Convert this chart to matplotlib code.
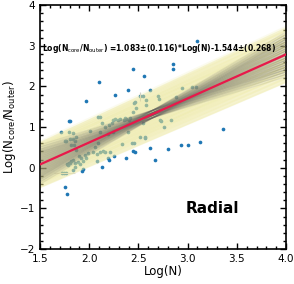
import numpy as np
import matplotlib
matplotlib.use("Agg")
import matplotlib.pyplot as plt
from matplotlib.ticker import MultipleLocator

# fit parameters (from the label)
slope, slope_err = 1.083, 0.116
icpt, icpt_err = -1.544, 0.268

# points: Log(N), Log(Ncore/Nouter)
log_n = [3.10, 2.855, 2.85, 2.45, 2.56, 2.10, 2.62, 2.39, 2.26, 2.52, 2.55, 1.97, 1.79, 1.80, 2.09, 1.71,
         3.36, 3.13, 3.00, 2.93, 2.80, 2.62, 2.67, 2.47, 2.45, 2.37, 2.19, 2.20, 2.25, 2.13, 1.94, 1.93, 1.75, 1.77,
         2.11, 2.13, 2.16, 2.20, 2.23, 2.24, 2.26, 2.29, 2.31, 2.35, 2.37, 2.40, 2.11, 2.01, 2.33,
         1.79, 1.76, 1.81, 1.84, 1.86, 1.87, 1.82, 1.85, 1.96, 1.92, 1.90, 1.87, 1.94, 1.97, 1.99, 1.91,
         1.84, 1.80, 1.86, 1.78, 1.72, 1.74, 1.76, 2.08, 2.11, 2.14, 2.06,
         2.94, 3.04, 3.085, 2.70, 2.71, 2.58, 2.58, 2.47, 2.46, 2.48, 2.44, 2.36, 2.41,
         2.72, 2.73, 2.83, 2.76, 2.57, 2.43, 2.46, 2.39, 2.55, 2.88, 2.52, 2.57,
         1.75, 1.82, 1.89, 1.86, 1.79, 1.77, 1.84, 2.04, 2.09, 2.16, 2.21, 2.19, 2.24, 1.84, 2.08]
log_ratio = [3.11, 2.55, 2.44, 2.44, 2.25, 2.10, 1.92, 1.90, 1.78, 1.76, 1.76, 1.65, 1.16, 1.16, 1.26, 0.87,
             0.95, 0.64, 0.57, 0.55, 0.46, 0.49, 0.20, 0.39, 0.41, 0.24, 0.23, 0.20, 0.29, 0.02, -0.04, -0.08, -0.48, -0.65,
             1.24, 1.09, 0.99, 1.04, 1.09, 1.17, 1.21, 1.17, 1.21, 1.17, 1.21, 1.17, 0.87, 0.91, 0.58,
             0.88, 0.65, 0.71, 0.71, 0.67, 0.75, 0.55, 0.57, 0.31, 0.25, 0.29, 0.43, 0.17, 0.25, 0.37, 0.09,
             0.19, 0.12, 0.02, 0.06, -0.14, -0.14, -0.12, 0.35, 0.39, 0.42, 0.50,
             1.97, 1.99, 1.99, 1.76, 1.70, 1.66, 1.55, 1.62, 1.60, 1.47, 1.36, 1.23, 1.23,
             1.17, 1.14, 1.17, 0.99, 0.72, 0.60, 0.60, 0.88, 1.11, 1.74, 0.76, 0.76,
             0.66, 0.17, 0.15, 0.11, 0.12, 0.09, -0.06, 0.39, 0.60, 0.39, 0.39, 0.84, 0.88, 0.86, 0.17]

fig = plt.figure(figsize=(2.94, 2.84), dpi=100)
ax = fig.add_axes([0.136, 0.123, 0.837, 0.859])

ax.scatter(log_n, log_ratio, s=7, color='#1f77b4', zorder=1, linewidths=0)
# faint error bars on two points
ax.errorbar([1.75], [-0.12], xerr=[0.11], fmt='none', ecolor='#dcdcdc', lw=0.8, zorder=1)
ax.errorbar([2.52], [1.76], yerr=[0.11], fmt='none', ecolor='#cfcfcf', lw=0.8, zorder=1)

xx = np.linspace(1.5, 4.0, 26)
# yellow band: lines spread over slope / intercept, plus their envelope
band = []
for s in np.linspace(-0.4, 0.4, 5):
    for t in np.linspace(-1.85, 1.85, 11):
        yy = (slope + s * slope_err) * xx + icpt + t * icpt_err
        band.append(yy)
        ax.plot(xx, yy, color='#e0d862', alpha=0.1, lw=1.5, zorder=2)
band = np.array(band)
ax.fill_between(xx, band.min(axis=0), band.max(axis=0), color='#ece79a', alpha=0.45,
                lw=0, zorder=2)

# grey lines: pivoting around the mean
piv = 2.65
ypiv = slope * piv + icpt
for s in np.linspace(-0.34, 0.34, 17):
    for d in np.linspace(-0.09, 0.09, 4):
        ax.plot(xx, ypiv + d + (slope + s) * (xx - piv),
                color='#5a5a5a', alpha=0.12, lw=1.0, zorder=3)

ax.plot(xx, slope * xx + icpt, color='#e8194a', lw=1.6, zorder=4)

ax.text(1.52, 2.93, r'Log(N$_{\rm core}$/N$_{\rm outer}$) =1.083±(0.116)*Log(N)-1.544±(0.268)',
        fontsize=5.5, fontweight='bold', va='center', ha='left', zorder=5)
ax.text(3.25, -1.0, 'Radial', fontsize=11, fontweight='bold', ha='center', va='center')

ax.set_xlim(1.5, 4.0)
ax.set_ylim(-2, 4)
ax.xaxis.set_major_locator(MultipleLocator(0.5))
ax.xaxis.set_minor_locator(MultipleLocator(0.1))
ax.yaxis.set_major_locator(MultipleLocator(1))
ax.yaxis.set_minor_locator(MultipleLocator(0.2))
ax.tick_params(which='both', direction='in', top=True, right=True, labelsize=7.5, width=1.0)
ax.tick_params(which='major', length=4)
ax.tick_params(which='minor', length=2)
for sp in ax.spines.values():
    sp.set_linewidth(1.2)
ax.set_xlabel('Log(N)', fontsize=8.5, labelpad=1)
ax.set_ylabel(r'Log(N$_{\rm core}$/N$_{\rm outer}$)', fontsize=8.5, labelpad=1)

fig.savefig('out.png', dpi=100)
